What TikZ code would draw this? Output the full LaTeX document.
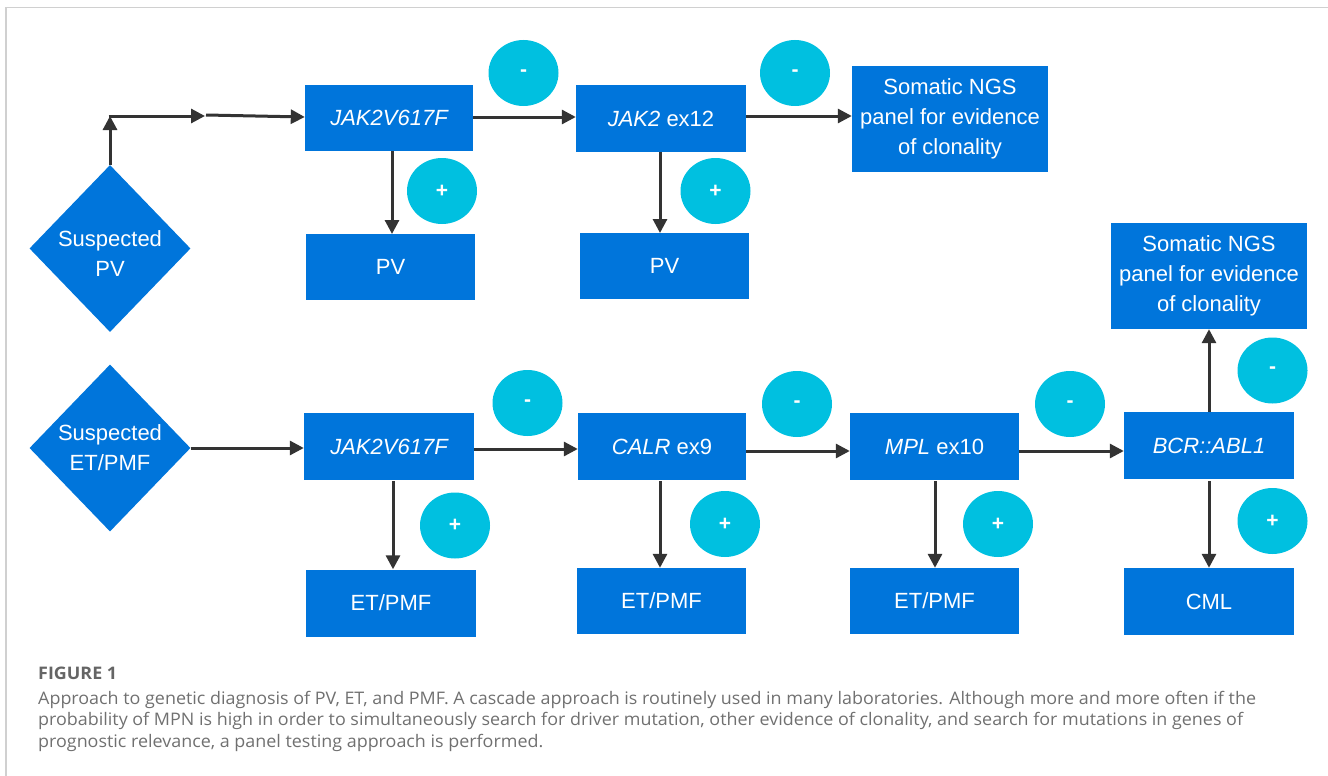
\documentclass[tikz,border=0pt]{standalone}
\usepackage{fontspec}
\setmainfont{Liberation Sans}
\newfontfamily\capfont[FakeStretch=1.035]{Open Sans}
\usetikzlibrary{shapes.geometric,arrows.meta}
\definecolor{boxblue}{RGB}{0,117,219}
\definecolor{circcyan}{RGB}{0,192,224}
\definecolor{arrgray}{RGB}{51,51,51}
\definecolor{capgray}{RGB}{112,112,112}
\definecolor{framegray}{RGB}{208,208,208}
\tikzset{
  stepbox/.style={fill=boxblue, text=white, inner sep=0pt, align=center,
    font=\fontsize{22}{30}\selectfont},
  dia/.style={diamond, fill=boxblue, inner sep=0pt, minimum width=161pt, minimum height=167pt},
  diatext/.style={text=white, align=center, font=\fontsize{22}{30}\selectfont},
  sign/.style={ellipse, fill=circcyan, text=white, inner sep=0pt,
    minimum width=70pt, minimum height=66pt, font=\bfseries\fontsize{21}{21}\selectfont},
  arr/.style={draw=arrgray, line width=3pt, -{Triangle[length=14pt,width=14pt]}},
  capline/.style={anchor=base west, inner sep=0pt, text=capgray, font=\capfont\fontsize{17.3}{20}\selectfont}
}
\begin{document}
\begin{tikzpicture}[x=1pt,y=-1pt]
\useasboundingbox (0,0) rectangle (1328,776);
\draw[framegray, line width=1.5pt] (6,776) -- (6,7.5) -- (1328,7.5);

% ---------- top row ----------
\node[dia] (d1) at (110,248.5) {};
\node[diatext] at (110,253.5) {Suspected\\PV};
\coordinate (c1) at (110,116);
\coordinate (c2) at (205,116);
\node[stepbox, minimum width=168pt, minimum height=66pt] (a1) at (389,118) {\itshape JAK2V617F};
\node[stepbox, minimum width=170pt, minimum height=67pt] (a2) at (661,118.5) {\itshape JAK2\upshape{} ex12};
\node[stepbox, minimum width=196pt, minimum height=106pt] (a3) at (950,119) {Somatic NGS\\panel for evidence\\of clonality};
\node[stepbox, minimum width=169pt, minimum height=66pt] (p1) at (390.5,267) {PV};
\node[stepbox, minimum width=169pt, minimum height=66pt] (p2) at (664.5,266) {PV};

\node[sign] (m1) at (523.5,73) {-};
\node[sign] (m2) at (795,73) {-};
\node[sign] (q1) at (442,191) {+};
\node[sign] (q2) at (715.5,191) {+};

\draw[arr] (d1.north) -- (c1);
\draw[arr] ([xshift=-1.5pt]c1) -- (c2);
\draw[arr] ([xshift=1pt,yshift=1pt]c2) -- (a1.west |- 0,117);
\draw[arr] (a1.east |- 0,117) -- (a2.west |- 0,117);
\draw[arr] (a2.east |- 0,116) -- (a3.west |- 0,116);
\draw[arr] (392,151) -- (392,234);
\draw[arr] (660,152) -- (660,233);

% ---------- bottom row ----------
\node[dia] (d2) at (110,448) {};
\node[diatext] at (110,447.5) {Suspected\\ET/PMF};
\node[stepbox, minimum width=170pt, minimum height=67pt] (b1) at (389,446.5) {\itshape JAK2V617F};
\node[stepbox, minimum width=168pt, minimum height=67pt] (b2) at (662,446.5) {\itshape CALR\upshape{} ex9};
\node[stepbox, minimum width=169pt, minimum height=67pt] (b3) at (934.5,446.5) {\itshape MPL\upshape{} ex10};
\node[stepbox, minimum width=170pt, minimum height=67pt] (b4) at (1209,445.5) {\itshape BCR::ABL1};
\node[stepbox, minimum width=196pt, minimum height=106pt] (b5) at (1209,276) {Somatic NGS\\panel for evidence\\of clonality};
\node[stepbox, minimum width=170pt, minimum height=67pt] (e1) at (391,603) {ET/PMF};
\node[stepbox, minimum width=169pt, minimum height=66pt] (e2) at (661.5,601) {ET/PMF};
\node[stepbox, minimum width=169pt, minimum height=66pt] (e3) at (934.5,601) {ET/PMF};
\node[stepbox, minimum width=170pt, minimum height=67pt] (e4) at (1209,601.5) {CML};

\node[sign] (m3) at (527.5,403) {-};
\node[sign] (m4) at (797,404) {-};
\node[sign] (m5) at (1070,404) {-};
\node[sign] (m6) at (1272.5,370.5) {-};
\node[sign] (q3) at (455,525.5) {+};
\node[sign] (q4) at (725,524) {+};
\node[sign] (q5) at (998,524) {+};
\node[sign] (q6) at (1272.5,521) {+};

\draw[arr] (d2.east |- 0,448) -- (b1.west |- 0,448);
\draw[arr] (b1.east |- 0,449) -- (b2.west |- 0,449);
\draw[arr] (b2.east |- 0,451) -- (b3.west |- 0,451);
\draw[arr] (b3.east |- 0,451) -- (b4.west |- 0,451);
\draw[arr] (1209,412) -- (b5.south -| 1209,0);
\draw[arr] (b4.south -| 1209,0) ++(0,2) -- (e4.north -| 1209,0);
\draw[arr] (393,481) -- (e1.north -| 393,0);
\draw[arr] (660,481) -- (e2.north -| 660,0);
\draw[arr] (935,481) -- (e3.north -| 935,0);

% ---------- caption ----------
\node[capline, font=\capfont\bfseries\fontsize{17.3}{20}\selectfont, text=capgray!90!black] (cap0) at (38,679) {FIGURE 1};
\node[capline] (cap1) at (38,704) {Approach to genetic diagnosis of PV, ET, and PMF. A cascade approach is routinely used in many laboratories. Although more and more often if the};
\node[capline] (cap2) at (38,725.5) {probability of MPN is high in order to simultaneously search for driver mutation, other evidence of clonality, and search for mutations in genes of};
\node[capline] (cap3) at (38,747) {prognostic relevance, a panel testing approach is performed.};
\end{tikzpicture}
\end{document}
